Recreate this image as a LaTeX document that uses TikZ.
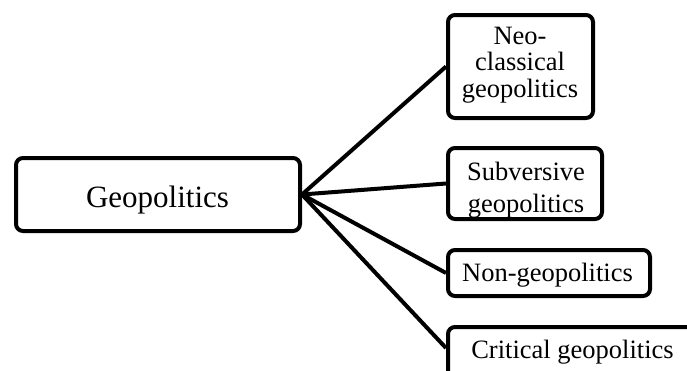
\documentclass[tikz,border=0pt]{standalone}
\usepackage{fontspec}
\setmainfont{Liberation Serif}
\begin{document}
\begin{tikzpicture}[x=1pt,y=-1pt,
  box/.style={draw=black, line width=4pt, rounded corners=7pt, fill=white, inner sep=0pt},
  lbl/.style={inner sep=0pt, align=center, font=\fontsize{26.5}{26.5}\selectfont},
  biglbl/.style={inner sep=0pt, align=center, font=\fontsize{31}{31}\selectfont},
  link/.style={line width=4pt}]
\clip (0,0) rectangle (687,370);
\fill[white] (0,0) rectangle (687,370);
% boxes
\node[box, minimum width=284pt, minimum height=73pt] (geo) at (158,194.5) {};
\node[box, minimum width=145pt, minimum height=103pt] (neo) at (520.5,66.5) {};
\node[box, minimum width=154pt, minimum height=71pt] (sub) at (525,183.5) {};
\node[box, minimum width=202pt, minimum height=46pt] (non) at (549,273) {};
\node[box, minimum width=250pt, minimum height=71pt] (crit) at (573,362.5) {};
% connectors
\draw[link] (geo.east) -- (neo.west);
\draw[link] (geo.east) -- (sub.west);
\draw[link] (geo.east) -- (non.west);
\draw[link] (geo.east) -- ([yshift=14.5pt]crit.west);
% labels
\node[biglbl] (geot) at (157.5,199.8) {Geopolitics};
\node[lbl] (neot) at (520,64.7) {Neo-\\classical\\geopolitics};
\node[lbl, font=\fontsize{26.5}{32}\selectfont] (subt) at (526,190) {Subversive\\geopolitics};
\node[lbl] (nont) at (547.5,274.8) {Non-geopolitics};
\node[lbl] (critt) at (572.5,351.9) {Critical geopolitics};
\end{tikzpicture}
\end{document}
